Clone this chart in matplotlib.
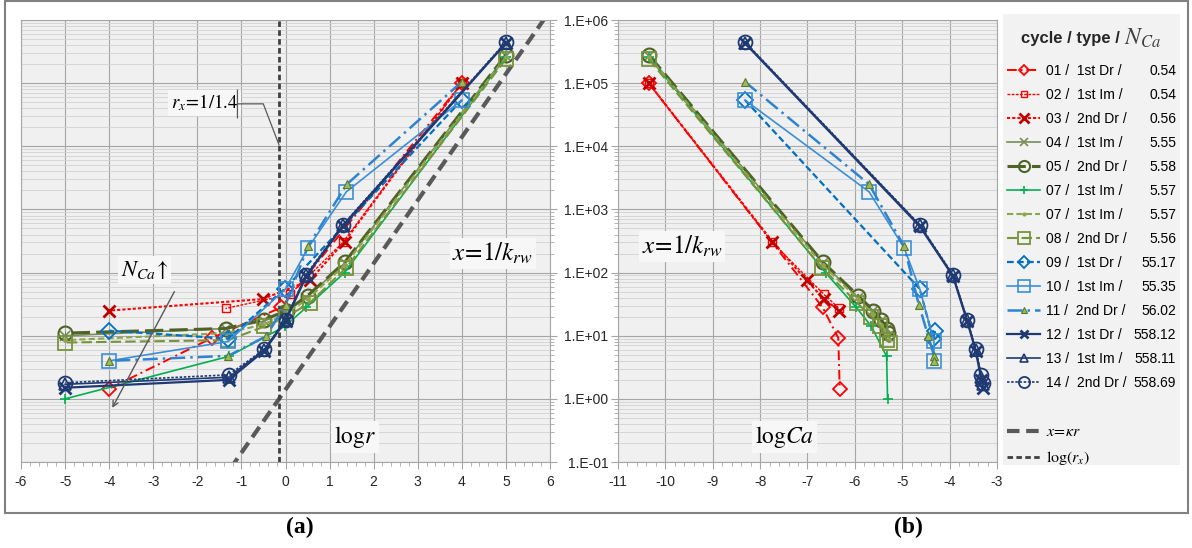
import numpy as np
import matplotlib
matplotlib.use('Agg')
import matplotlib.pyplot as plt
from matplotlib.lines import Line2D
from matplotlib.patches import Rectangle
from matplotlib.ticker import LogLocator, MultipleLocator, FuncFormatter, NullFormatter

plt.rcParams.update({
    'font.family': ['Liberation Sans', 'DejaVu Sans'],
    'mathtext.fontset': 'stix',
    'axes.unicode_minus': False,
    'font.size': 10,
})

# legend info
cycles = ['01', '02', '03', '04', '05', '07', '07', '08', '09', '10', '11', '12', '13', '14']
types = ['1st Dr', '1st Im', '2nd Dr', '1st Im', '2nd Dr', '1st Im', '1st Im', '2nd Dr',
         '1st Dr', '1st Im', '2nd Dr', '1st Dr', '1st Im', '2nd Dr']
n_ca = ['0.54', '0.54', '0.56', '5.55', '5.58', '5.57', '5.57', '5.56',
        '55.17', '55.35', '56.02', '558.12', '558.11', '558.69']

# x = 1/k_rw (y values), log r (panel a) and log Ca (panel b)
y01 = [1e5, 28, 9.2, 1.45]
xa01 = [4.0, -0.1, -1.67, -4.0]
xb01 = [-10.35, -6.68, -6.35, -6.32]

y02 = [1e5, 300, 45, 27]
xa02 = [4.0, 1.3, 0.1, -1.36]
xb02 = [-10.35, -7.74, -6.65, -6.33]

y03 = [1e5, 310, 75, 38, 25]
xa03 = [4.0, 1.34, 0.55, -0.52, -4.0]
xb03 = [-10.35, -7.74, -7.02, -6.65, -6.33]

y04 = [2.7e5, 140, 40, 25, 17, 13, 10]
xa04 = [5.0, 1.34, 0.47, 0.0, -0.48, -1.36, -5.0]
xb04 = [-10.35, -6.67, -5.93, -5.61, -5.44, -5.33, -5.30]

y05 = [2.8e5, 145, 43, 25, 18, 13, 11]
xa05 = [5.0, 1.34, 0.5, 0.03, -0.48, -1.36, -5.0]
xb05 = [-10.35, -6.67, -5.93, -5.61, -5.44, -5.33, -5.30]

y07a = [2.6e5, 100, 28, 14, 4.7, 1.0]
xa07a = [5.0, 1.34, 0.47, -0.02, -1.29, -5.0]
xb07a = [-10.35, -6.62, -5.97, -5.65, -5.33, -5.31]

y07b = [2.6e5, 130, 38, 22, 15, 11, 8.5]
xa07b = [5.0, 1.34, 0.5, 0.0, -0.5, -1.36, -5.0]
xb07b = [-10.35, -6.67, -5.93, -5.61, -5.44, -5.33, -5.28]

y08 = [2.4e5, 120, 33, 20, 14, 8.5, 7.8]
xa08 = [5.0, 1.38, 0.55, 0.02, -0.48, -1.3, -5.0]
xb08 = [-10.35, -6.70, -5.95, -5.65, -5.47, -5.33, -5.26]

y09 = [5.4e4, 55, 9, 12]
xa09 = [4.0, -0.02, -1.3, -4.0]
xb09 = [-8.32, -4.63, -4.35, -4.31]

y10 = [5.4e4, 1900, 245, 55, 8.1, 4.0]
xa10 = [4.0, 1.38, 0.51, 0.0, -1.3, -4.0]
xb10 = [-8.32, -5.70, -4.96, -4.63, -4.33, -4.33]

y11 = [1.05e5, 2500, 260, 31, 9.8, 4.8, 4.0]
xa11 = [4.0, 1.39, 0.51, 0.0, -0.44, -1.3, -4.0]
xb11 = [-8.32, -5.70, -4.96, -4.65, -4.45, -4.33, -4.33]

y12 = [4.3e5, 540, 88, 17, 5.8, 2.0, 1.5]
y13 = [4.4e5, 560, 90, 18, 6.0, 2.2, 1.7]
y14 = [4.5e5, 570, 93, 18, 6.1, 2.4, 1.8]
xa_navy = [5.0, 1.3, 0.47, 0.0, -0.48, -1.29, -5.0]
xb_navy = [-8.32, -4.63, -3.93, -3.63, -3.45, -3.33, -3.29]

kappa = 1.4
r_x = 1 / 1.4
logr_line = [-1.5, 6.5]

red = '#FF0000'
navy = '#1F3A73'
styles = [
    dict(color=red, ls=(0, (5, 2, 1, 2)), lw=1.4, marker='D', ms=7, mfc='none', mew=1.3),
    dict(color=red, ls=(0, (2, 1)), lw=1.0, marker='s', ms=6, mfc='none', mew=1.0),
    dict(color=red, mec='#C00000', ls=(0, (1.5, 1)), lw=1.5, marker='x', ms=9, mew=2.0),
    dict(color='#7A8B5A', ls='-', lw=1.2, marker='x', ms=7, mew=1.2),
    dict(color='#4F6228', ls=(0, (6, 2)), lw=2.2, marker='o', ms=10, mfc='none', mew=1.5),
    dict(color='#00B050', ls='-', lw=1.2, marker='+', ms=7, mew=1.2),
    dict(color='#8DA64B', ls=(0, (3, 1.5)), lw=1.5, marker='.', ms=5),
    dict(color='#77933C', ls=(0, (5, 2)), lw=1.5, marker='s', ms=10, mfc='none', mew=1.3),
    dict(color='#0070C0', ls=(0, (3, 1.5)), lw=1.6, marker='D', ms=8, mfc='none', mew=1.3),
    dict(color='#3A8FD8', ls='-', lw=1.2, marker='s', ms=10, mfc='none', mew=1.2),
    dict(color='#2F84D0', ls=(0, (6, 2, 1, 2)), lw=1.8, marker='^', ms=6, mfc='#9BBB59', mec='#5A7A32', mew=0.8),
    dict(color=navy, ls='-', lw=1.6, marker='x', ms=8, mew=2.0),
    dict(color=navy, ls='-', lw=1.2, marker='^', ms=8, mfc='none', mew=1.2),
    dict(color=navy, ls=(0, (1.5, 1)), lw=1.2, marker='o', ms=10, mfc='none', mew=1.3),
]
series = [
    (y01, xa01, xb01), (y02, xa02, xb02), (y03, xa03, xb03), (y04, xa04, xb04),
    (y05, xa05, xb05), (y07a, xa07a, xb07a), (y07b, xa07b, xb07b), (y08, xa08, xb08),
    (y09, xa09, xb09), (y10, xa10, xb10), (y11, xa11, xb11),
    (y12, xa_navy, xb_navy), (y13, xa_navy, xb_navy), (y14, xa_navy, xb_navy),
]

W, H = 1192, 548
fig = plt.figure(figsize=(W / 100, H / 100), dpi=100)


def px_rect(l, t, r, b):
    return [l / W, 1 - b / H, (r - l) / W, (b - t) / H]


ax_a = fig.add_axes(px_rect(21, 20, 550, 462))
ax_b = fig.add_axes(px_rect(618, 20, 997, 462))

for ax in (ax_a, ax_b):
    ax.set_facecolor('#F0F0F0')
    ax.set_yscale('log')
    ax.set_ylim(0.1, 1e6)
    ax.yaxis.set_major_locator(LogLocator(base=10, numticks=10))
    ax.yaxis.set_minor_locator(LogLocator(base=10, subs=np.arange(2, 10), numticks=20))
    ax.yaxis.set_minor_formatter(NullFormatter())
    ax.xaxis.set_major_locator(MultipleLocator(1))
    ax.xaxis.set_minor_locator(MultipleLocator(0.2))
    ax.grid(which='major', color='#A6A6A6', lw=0.8)
    ax.grid(which='minor', axis='y', color='#D2D2D2', lw=0.6)
    ax.set_axisbelow(True)
    for s in ax.spines.values():
        s.set_color('#A6A6A6')
        s.set_linewidth(0.8)
    ax.tick_params(which='both', direction='out', color='#A6A6A6', labelsize=10,
                   labelcolor='#262626')
    ax.tick_params(which='major', length=5, pad=4)
    ax.tick_params(which='minor', length=3)

ax_a.set_xlim(-6, 6)
ax_a.yaxis.tick_right()
ax_a.yaxis.set_major_formatter(NullFormatter())
ax_b.set_xlim(-11, -3)
ax_b.yaxis.set_major_formatter(FuncFormatter(lambda v, p: f'1.E{int(round(np.log10(v))):+03d}'))
ax_b.tick_params(axis='y', pad=2)

# reference lines in panel (a)
xl = np.array(logr_line)
ax_a.plot(xl, kappa * 10 ** xl, color='#595959', lw=3, ls=(0, (3, 1.6)), zorder=2)
ax_a.axvline(np.log10(r_x), color='#404040', lw=2, ls=(0, (2, 1.2)), zorder=2)

handles = []
for (ys, xa, xb), st in zip(series, styles):
    ax_a.plot(xa, ys, zorder=3, **st)
    ax_b.plot(xb, ys, zorder=3, **st)
    handles.append(Line2D([], [], **st))

# annotations
tbox = dict(fc='#F7F7F7', ec='none', pad=2)
ax_a.text(4.7, 200, r'$x\!=\!1/k_{rw}$', fontsize=18, ha='center', va='center', bbox=tbox)
ax_a.text(1.57, 0.25, r'$\mathrm{log}r$', fontsize=17, ha='center', va='center', bbox=tbox)
ax_b.text(-9.65, 260, r'$x\!=\!1/k_{rw}$', fontsize=18, ha='center', va='center', bbox=tbox)
ax_b.text(-7.48, 0.25, r'$\mathrm{log}Ca$', fontsize=17, ha='center', va='center', bbox=tbox)

ax_a.text(-1.84, 4.9e4, r'$r_x\!=\!1/1.4$', fontsize=13.5, ha='center', va='center', bbox=tbox)
ax_a.annotate('', xy=(-1.09, 7.8e4), xytext=(-1.09, 2.8e4),
              arrowprops=dict(arrowstyle='-', color='#595959', lw=0.9, shrinkA=0, shrinkB=0))
ax_a.annotate('', xy=(np.log10(r_x), 1.05e4), xytext=(-1.09, 4.7e4),
              arrowprops=dict(arrowstyle='-', color='#595959', lw=0.9, shrinkA=0, shrinkB=0,
                              connectionstyle='angle,angleA=0,angleB=111,rad=0'))

ax_a.text(-3.2, 110, r'$N_{Ca}\!\uparrow$', fontsize=16, ha='center', va='center', bbox=tbox)
ax_a.annotate('', xy=(-3.93, 0.72), xytext=(-2.52, 50),
              arrowprops=dict(arrowstyle='->', color='#595959', lw=1.0, shrinkA=0, shrinkB=0))

# outer frame and legend background
fig.add_artist(Rectangle((5 / W, 1 - 513 / H), 1183 / W, 512 / H, transform=fig.transFigure,
                         fill=False, ec='#808080', lw=1.5))
fig.add_artist(Rectangle((1003 / W, 1 - 465 / H), 177 / W, 451 / H, transform=fig.transFigure,
                         fc='#F2F2F2', ec='none', zorder=0))

labels = [f'{c} /  {t} /' for c, t in zip(cycles, types)]
handles += [Line2D([], [], color='none'),
            Line2D([], [], color='#595959', lw=3, ls=(0, (3, 1.6))),
            Line2D([], [], color='#404040', lw=2, ls=(0, (2, 1.2)))]
labels += [' ', r'$x\!=\!\kappa r$', r'$\mathrm{log}(r_x)$']

leg = fig.legend(handles, labels, loc='upper left', bbox_to_anchor=(996 / W, 1 - 53 / H),
                 frameon=False, fontsize=10, handlelength=2.4, handletextpad=0.4,
                 labelspacing=0.72, borderpad=0.3, markerscale=0.8)
for t in leg.get_texts()[-2:]:
    t.set_fontsize(11.5)

title = fig.text(1021 / W, 1 - 43 / H, 'cycle / type /', fontsize=12, weight='bold',
                 ha='left', va='baseline', color='#262626')

fig.text(300 / W, 1 - 527 / H, '(a)', family='Liberation Serif', weight='bold', fontsize=17,
         ha='center', va='center')
fig.text(908 / W, 1 - 527 / H, '(b)', family='Liberation Serif', weight='bold', fontsize=17,
         ha='center', va='center')

# N_Ca of the title and right-aligned N_Ca column next to legend rows
fig.canvas.draw()
tb = title.get_window_extent()
fig.text((tb.x1 + 4) / fig.bbox.width, 1 - 45 / H, r'$N_{Ca}$', fontsize=17,
         ha='left', va='baseline', color='#404040')
for txt, num in zip(leg.get_texts()[:14], n_ca):
    xd, yd = txt.get_transform().transform(txt.get_position())
    fig.text(1176 / W, yd / fig.bbox.height, num, ha='right', va='baseline', fontsize=10)

fig.savefig('out.png', dpi=100)
